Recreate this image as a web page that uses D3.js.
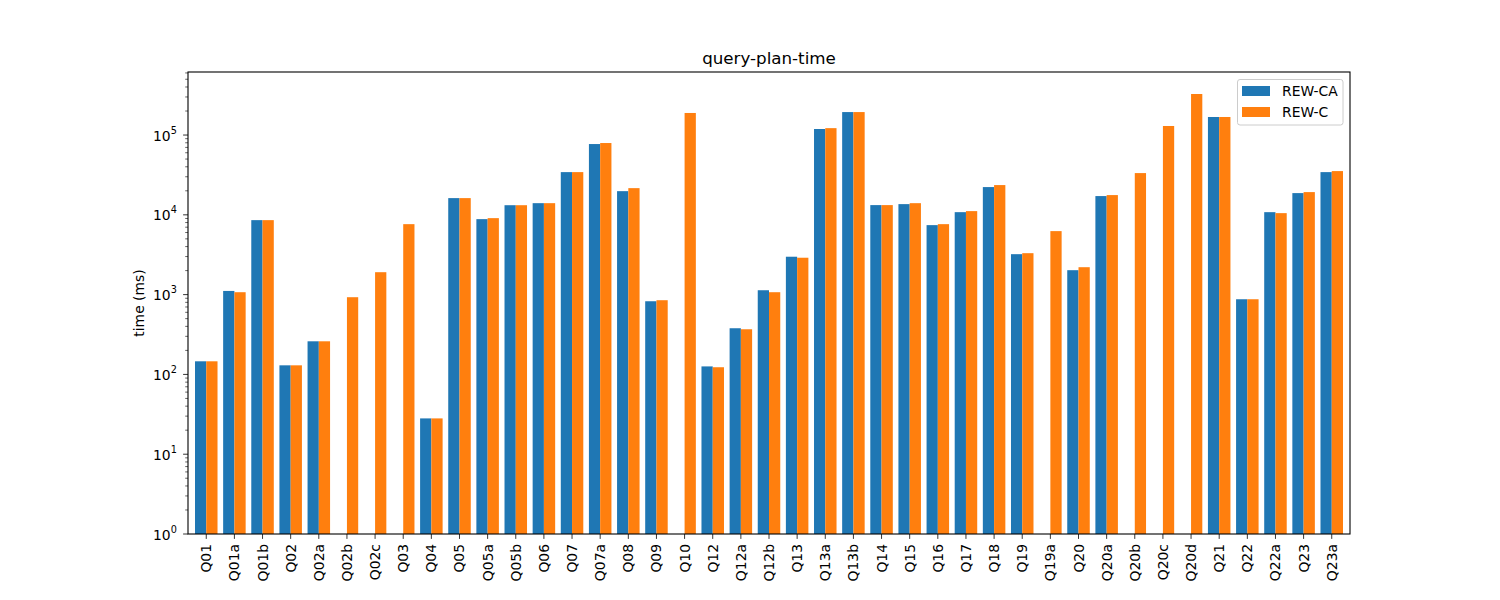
<!DOCTYPE html>
<html>
<head>
<meta charset="utf-8">
<script src="https://cdn.jsdelivr.net/npm/d3@7"></script>
<style>
  body { margin: 0; background: #fff; }
  svg { display: block; }
  text { font-family: "DejaVu Sans", sans-serif; fill: #000; }
</style>
</head>
<body>
<script>
const categories = ["Q01","Q01a","Q01b","Q02","Q02a","Q02b","Q02c","Q03","Q04","Q05","Q05a","Q05b","Q06","Q07","Q07a","Q08","Q09","Q10","Q12","Q12a","Q12b","Q13","Q13a","Q13b","Q14","Q15","Q16","Q17","Q18","Q19","Q19a","Q20","Q20a","Q20b","Q20c","Q20d","Q21","Q22","Q22a","Q23","Q23a"];
const rewCA = [146,1112,8580,130,260,null,null,null,28.1,16200,8830,13200,14000,34300,77100,19800,826,null,126,379,1135,2985,119000,194000,13240,13620,7430,10800,22270,3213,null,2024,17180,null,null,null,168300,875,10800,18720,34300];
const rewC  = [146,1072,8580,130,260,928,1910,7640,28.1,16200,9090,13200,14000,34300,79400,21600,851,189000,123,368,1072,2900,122000,194000,13240,14000,7640,11130,23600,3306,6250,2206,17680,33350,129800,326800,168300,875,10500,19270,35330];
const seriesNames = ["REW-CA","REW-C"];
const seriesColors = ["#1f77b4","#ff7f0e"];
const yTickExps = [0,1,2,3,4,5];

const W = 1500, H = 600;
const L = 188, R = 1350, T = 72, B = 534;
const svg = d3.select("body").append("svg").attr("width", W).attr("height", H);

const x = d3.scaleLinear().domain([-0.649, categories.length - 1 + 0.649]).range([L, R]);
const y = d3.scaleLog().domain([1, Math.pow(10, 5.79)]).range([B, T]);
const bw = x(0.4) - x(0);

// bars
const series = [rewCA, rewC];
series.forEach((vals, s) => {
  svg.append("g").selectAll("rect")
    .data(vals.map((v, i) => ({v, i})).filter(d => d.v != null))
    .enter().append("rect")
    .attr("x", d => x(d.i + (s === 0 ? -0.4 : 0)))
    .attr("width", bw)
    .attr("y", d => y(d.v))
    .attr("height", d => B - y(d.v))
    .attr("fill", seriesColors[s]);
});

// y axis ticks
const gy = svg.append("g");
const minor = [];
for (let e = 0; e < 6; e++) for (let m = 2; m <= 9; m++) {
  const v = m * Math.pow(10, e);
  if (v <= y.domain()[1]) minor.push(v);
}
gy.selectAll("line.minor").data(minor).enter().append("line")
  .attr("x1", L - 2.8).attr("x2", L).attr("y1", d => y(d)).attr("y2", d => y(d))
  .attr("stroke", "#000").attr("stroke-width", 0.6);
gy.selectAll("line.major").data(yTickExps).enter().append("line")
  .attr("x1", L - 4.9).attr("x2", L).attr("y1", d => y(Math.pow(10, d))).attr("y2", d => y(Math.pow(10, d)))
  .attr("stroke", "#000").attr("stroke-width", 0.8);
const yl = gy.selectAll("text").data(yTickExps).enter().append("text")
  .attr("x", L - 35).attr("y", d => y(Math.pow(10, d)) + 5.5)
  .attr("text-anchor", "start").attr("font-size", "13.9px").text("10");
yl.append("tspan").attr("dy", -7).attr("font-size", "9.7px").text(d => d);

// x axis ticks & labels
const gx = svg.append("g");
gx.selectAll("line").data(categories).enter().append("line")
  .attr("x1", (d, i) => x(i)).attr("x2", (d, i) => x(i))
  .attr("y1", B).attr("y2", B + 4.9).attr("stroke", "#000").attr("stroke-width", 0.8);
gx.selectAll("text").data(categories).enter().append("text")
  .attr("transform", (d, i) => `translate(${x(i) + 5},${B + 10}) rotate(-90)`)
  .attr("text-anchor", "end").attr("font-size", "13.9px").text(d => d);

// frame
svg.append("rect").attr("x", L).attr("y", T).attr("width", R - L).attr("height", B - T)
  .attr("fill", "none").attr("stroke", "#000").attr("stroke-width", 1.1);

// title & labels
svg.append("text").attr("x", (L + R) / 2).attr("y", 64).attr("text-anchor", "middle")
  .attr("font-size", "16.7px").text("query-plan-time");
svg.append("text").attr("transform", `translate(144,${(T + B) / 2}) rotate(-90)`)
  .attr("text-anchor", "middle").attr("font-size", "13.9px").text("time (ms)");

// legend
const lg = svg.append("g");
lg.append("rect").attr("x", 1237.5).attr("y", 79.5).attr("width", 105.5).attr("height", 45.5)
  .attr("rx", 2.5).attr("fill", "#fff").attr("fill-opacity", 0.8).attr("stroke", "#ccc").attr("stroke-width", 1);
seriesNames.forEach((n, i) => {
  lg.append("rect").attr("x", 1242).attr("y", 86 + i * 21).attr("width", 28).attr("height", 10).attr("fill", seriesColors[i]);
  lg.append("text").attr("x", 1282).attr("y", 96 + i * 21).attr("font-size", "13.9px").text(n);
});
</script>
</body>
</html>
